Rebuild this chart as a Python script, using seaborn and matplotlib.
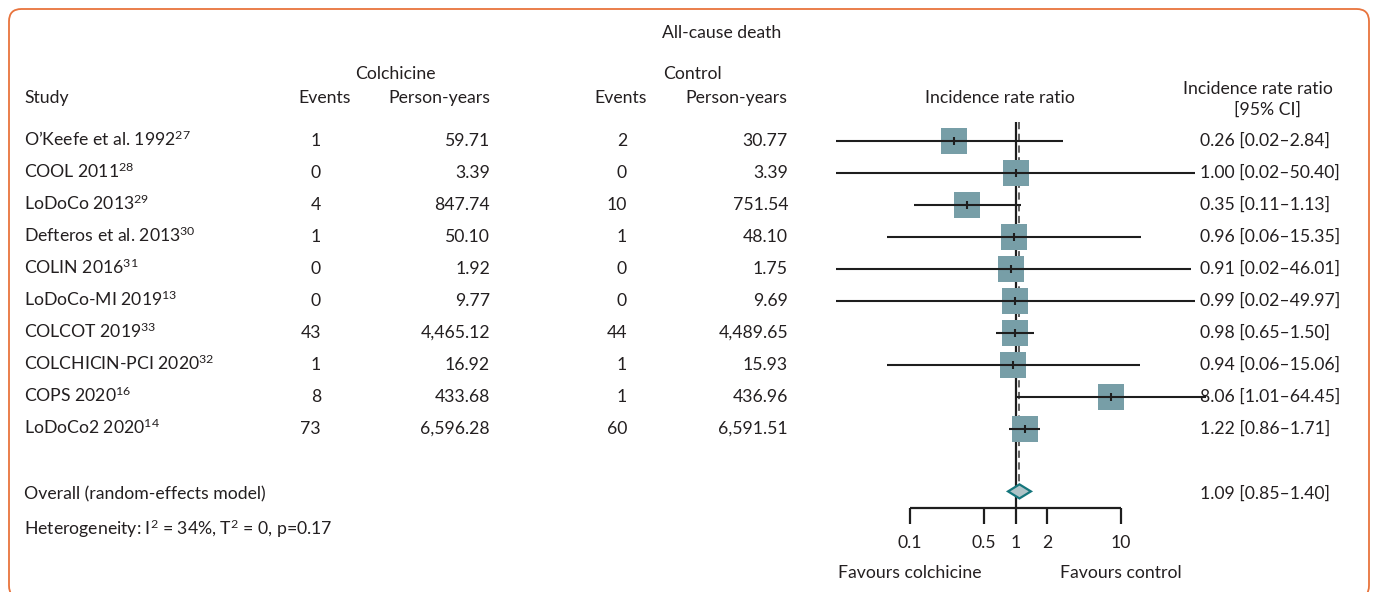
import numpy as np
import matplotlib
matplotlib.use("Agg")
import matplotlib.pyplot as plt
from matplotlib.patches import FancyBboxPatch
import seaborn as sns
import pandas as pd

# ---- data -------------------------------------------------------------
studies = ["O\u2019Keefe et al. 1992", "COOL 2011", "LoDoCo 2013",
           "Defteros et al. 2013", "COLIN 2016", "LoDoCo-MI 2019",
           "COLCOT 2019", "COLCHICIN-PCI 2020", "COPS 2020", "LoDoCo2 2020"]
refs = ["27", "28", "29", "30", "31", "13", "33", "32", "16", "14"]
colch_events = ["1", "0", "4", "1", "0", "0", "43", "1", "8", "73"]
colch_py = ["59.71", "3.39", "847.74", "50.10", "1.92", "9.77",
            "4,465.12", "16.92", "433.68", "6,596.28"]
ctrl_events = ["2", "0", "10", "1", "0", "0", "44", "1", "1", "60"]
ctrl_py = ["30.77", "3.39", "751.54", "48.10", "1.75", "9.69",
           "4,489.65", "15.93", "436.96", "6,591.51"]
irr = [0.26, 1.00, 0.35, 0.96, 0.91, 0.99, 0.98, 0.94, 8.06, 1.22]
ci_low = [0.02, 0.02, 0.11, 0.06, 0.02, 0.02, 0.65, 0.06, 1.01, 0.86]
ci_high = [2.84, 50.40, 1.13, 15.35, 46.01, 49.97, 1.50, 15.06, 64.45, 1.71]
overall = 1.09
overall_low = 0.85
overall_high = 1.40
tick_values = [0.1, 0.5, 1, 2, 10]
tick_labels = ["0.1", "0.5", "1", "2", "10"]

# ---- style ------------------------------------------------------------
sns.set_theme(style="white")
plt.rcParams["font.family"] = ["Lato", "DejaVu Sans"]
plt.rcParams["mathtext.fontset"] = "custom"
plt.rcParams["mathtext.rm"] = "Lato"
plt.rcParams["mathtext.it"] = "Lato:italic"
plt.rcParams["mathtext.bf"] = "Lato:bold"
plt.rcParams["mathtext.default"] = "regular"

TXT = "#231f20"
SQ = "#779ea7"
LINE = "#1e1e1e"
FS = 12.7

W, H = 1375, 592
fig = plt.figure(figsize=(W / 100, H / 100), dpi=100)
ax = fig.add_axes([0, 0, 1, 1])
ax.set_xscale("log")
# one decade spans 105.5 px, IRR = 1 sits at x = 1015.5 px
x0, dec = 1015.5, 105.5
ax.set_xlim(10 ** ((0 - x0) / dec), 10 ** ((W - x0) / dec))
# rows are 32 px apart, first row at y = 141 px
y0, step = 141, 32
ax.set_ylim((H - y0) / step, (0 - y0) / step)
ax.axis("off")

rows = np.arange(len(studies))
df = pd.DataFrame({"study": studies, "irr": irr, "lo": ci_low,
                   "hi": ci_high, "row": rows})

# study squares
sns.scatterplot(data=df, x="irr", y="row", marker="s", s=19.2 ** 2,
                color=SQ, linewidth=0, ax=ax, zorder=3, legend=False)
# confidence intervals and point ticks
ax.hlines(df["row"], df["lo"], df["hi"], color=LINE, lw=1.5, zorder=4)
ax.vlines(df["irr"], df["row"] - 0.13, df["row"] + 0.13, color=LINE,
          lw=1.5, zorder=5)

overall_row = 10.95
axis_row = 11.47
# reference lines
ax.vlines(1, -0.6, axis_row, color=LINE, lw=1.6, zorder=2)
ax.vlines(overall, -0.6, overall_row - 0.2, color="#555555", lw=1.3,
          linestyles=(0, (4, 2.5)), zorder=2)

# pooled estimate diamond
dh = 0.22
ax.fill([overall_low, overall, overall_high, overall],
        [overall_row, overall_row - dh, overall_row, overall_row + dh],
        facecolor="#aec3c7", edgecolor="#15767c", lw=1.6, zorder=6)

# log axis at the bottom
ax.hlines(axis_row, tick_values[0], tick_values[-1], color=LINE, lw=1.6)
ax.vlines(tick_values, axis_row, axis_row + 0.5, color=LINE, lw=1.6)
for v, lab in zip(tick_values, tick_labels):
    ax.text(v, 12.56, lab, ha="center", va="center", fontsize=FS, color=TXT)
ax.text(tick_values[0], 13.5, "Favours colchicine", ha="center",
        va="center", fontsize=FS, color=TXT)
ax.text(tick_values[-1], 13.5, "Favours control", ha="center",
        va="center", fontsize=FS, color=TXT)

# ---- text columns -----------------------------------------------------
tr = ax.get_yaxis_transform()


def px(x):
    return x / W


def row_of(y):
    return (y - y0) / step


def put(x, y, s, ha="left", va="center", **kw):
    return ax.text(px(x), row_of(y), s, ha=ha, va=va, fontsize=FS,
                   color=TXT, transform=tr, **kw)


put(722, 33, "All-cause death", ha="center")
put(395, 74, "Colchicine", ha="center")
put(692, 74, "Control", ha="center")
put(24, 98, "Study")
put(325, 98, "Events", ha="center")
put(439, 98, "Person-years", ha="center")
put(621, 98, "Events", ha="center")
put(736, 98, "Person-years", ha="center")
put(1000, 98, "Incidence rate ratio", ha="center")
put(1258, 89, "Incidence rate ratio", ha="center")
put(1268, 110, "[95% CI]", ha="center")

for i in rows:
    y = y0 + step * i
    put(24, y + 5, studies[i] + r"$^{" + refs[i] + "}$", va="baseline")
    put(321, y, colch_events[i], ha="right")
    put(490, y, colch_py[i], ha="right")
    put(627, y, ctrl_events[i], ha="right")
    put(788, y, ctrl_py[i], ha="right")
    put(1200, y, f"{irr[i]:.2f} [{ci_low[i]:.2f}\u2013{ci_high[i]:.2f}]")

put(24, 494, "Overall (random-effects model)")
put(1200, 494, f"{overall:.2f} [{overall_low:.2f}\u2013{overall_high:.2f}]")
put(24, 535, r"Heterogeneity: I$^2$ = 34%, T$^2$ = 0, p=0.17",
    va="baseline")

# rounded frame
frame = FancyBboxPatch((px(9), 1 - 598 / H), px(1369 - 9), 589 / H,
                       boxstyle="round,pad=0,rounding_size=0.009",
                       transform=fig.transFigure, fill=False,
                       edgecolor="#e8743d", lw=1.3, clip_on=False,
                       mutation_aspect=W / H)
fig.patches.append(frame)

fig.savefig("out.png", dpi=100)
